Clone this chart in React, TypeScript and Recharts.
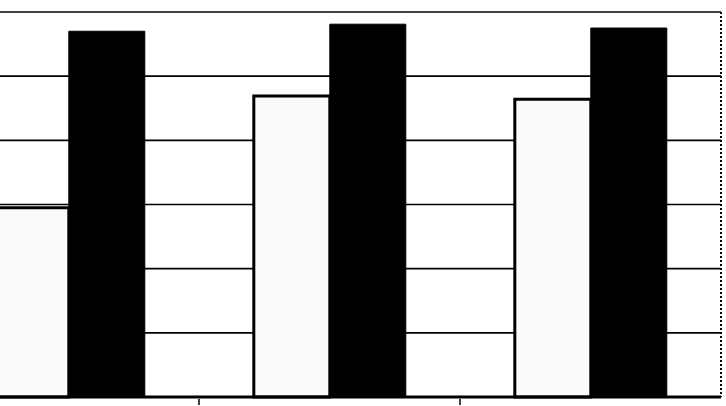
import React from 'react';
import { BarChart, Bar, XAxis, YAxis, CartesianGrid } from 'recharts';

const categories = ['A', 'B', 'C'];
const seriesLight = [29.5, 46.9, 46.4];
const seriesDark = [57.0, 58.1, 57.5];
const valueTicks = [0, 10, 20, 30, 40, 50, 60];

const data = categories.map((name, i) => ({
  name,
  light: seriesLight[i],
  dark: seriesDark[i],
}));

const blank = () => '';

// small mark under the boundary between neighbouring categories
const DividerTick = (props: any) => {
  const { x, y, payload, index } = props;
  if (index >= categories.length - 1) return <g />;
  const half = payload && payload.offset ? payload.offset : 0;
  const bx = x + half;
  return <line x1={bx} x2={bx} y1={y + 2} y2={y + 8} stroke="#000" strokeWidth={1.5} />;
};

export default function App() {
  return (
    <div style={{ position: 'absolute', left: 0, top: 0, width: 726, height: 406, overflow: 'hidden', background: '#fff' }}>
      <div style={{ marginLeft: -62 }}>
        <BarChart
          width={788}
          height={406}
          data={data}
          margin={{ top: 12, right: 4, left: 0, bottom: 0 }}
          barGap={0}
          barCategoryGap="21%"
        >
          <CartesianGrid vertical={false} stroke="#000" strokeWidth={1.6} />
          <XAxis
            dataKey="name"
            height={9}
            tick={<DividerTick />}
            tickSize={0}
            tickMargin={0}
            tickLine={false}
            axisLine={{ stroke: '#000', strokeWidth: 3 }}
          />
          <YAxis
            orientation="right"
            width={1}
            domain={[0, 60]}
            ticks={valueTicks}
            tickFormatter={blank}
            tickLine={false}
            axisLine={{ stroke: '#000', strokeWidth: 2, strokeDasharray: '2 2' }}
          />
          <Bar dataKey="light" fill="#fafafa" stroke="#000" strokeWidth={3} isAnimationActive={false} />
          <Bar dataKey="dark" fill="#000" stroke="#000" strokeWidth={1} isAnimationActive={false} />
        </BarChart>
      </div>
    </div>
  );
}
